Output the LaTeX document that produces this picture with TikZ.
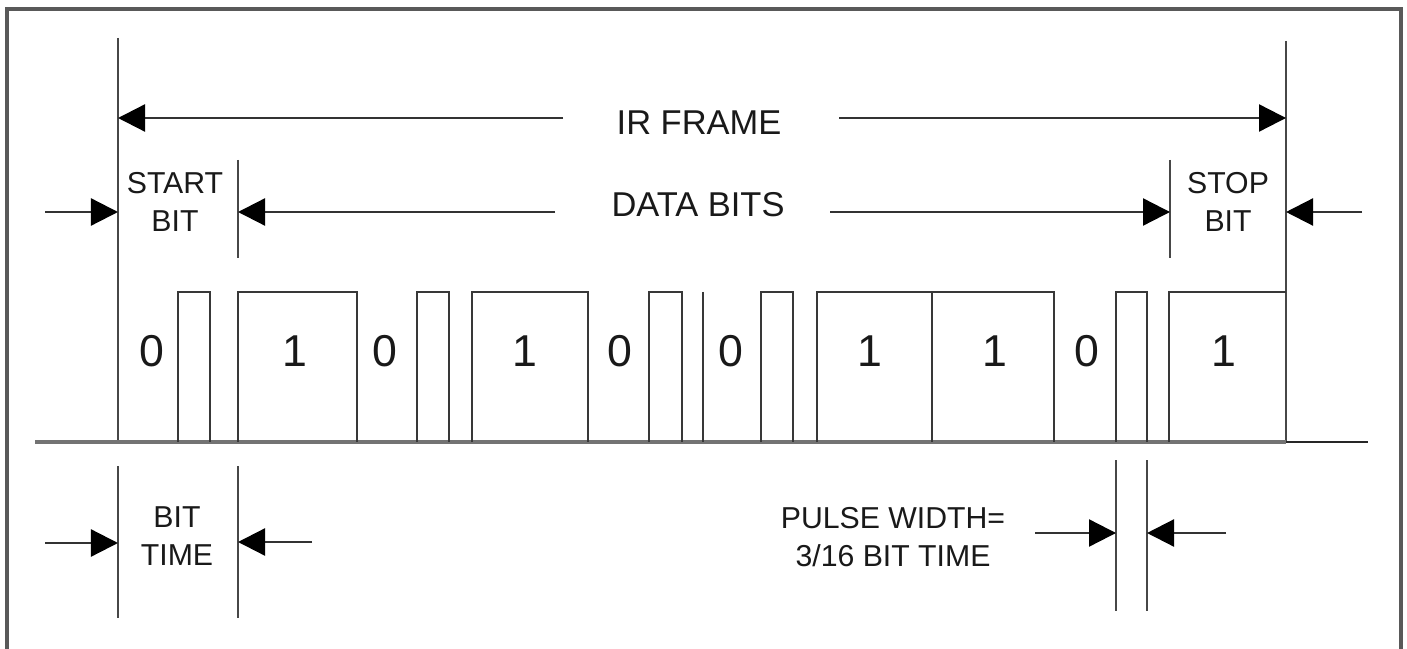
\documentclass[tikz,border=0pt]{standalone}
\usepackage{fontspec}
\setmainfont{Liberation Sans}
\usetikzlibrary{arrows.meta}

\begin{document}
\begin{tikzpicture}[x=0.01cm,y=-0.01cm,
  wave/.style={line width=0.65pt, draw=black!78, line join=miter},
  baseline/.style={line width=1.0pt, draw=black!55},
  marker/.style={line width=0.65pt, draw=black!72},
  dimarrow/.style={line width=0.65pt, draw=black!80,
    -{Triangle[length=2.7mm,width=2.7mm,color=black,fill=black]}},
  bitval/.style={font=\fontsize{12.7}{14}\selectfont, inner sep=0pt, text=black!90},
  heading/.style={font=\fontsize{9.8}{12}\selectfont, inner sep=0pt, text=black!90},
  note/.style={font=\fontsize{8.6}{11}\selectfont, align=center, inner sep=0pt, text=black!90},
]
\useasboundingbox (0,0) rectangle (1407,649);
\fill[white] (0,0) rectangle (1407,649);
% outer frame
\draw[line width=0.9pt, draw=black!65] (7,649) -- (7,9) -- (1401,9) -- (1401,649);

% boundary markers
\coordinate (frameT) at (118,38);   \coordinate (frameB) at (118,442);
\coordinate (endT)   at (1286,41);  \coordinate (endB)   at (1286,442);
\coordinate (startT) at (238,160);  \coordinate (startB) at (238,258);
\coordinate (stopT)  at (1170,160); \coordinate (stopB)  at (1170,258);
\draw[marker] (frameT) -- (frameB);
\draw[marker] (endT) -- (endB);
\draw[marker] (startT) -- (startB);
\draw[marker] (stopT) -- (stopB);

% IR frame span
\node[heading] (irframe) at (699,123) {IR FRAME};
\coordinate (irL) at (563,118);
\coordinate (irR) at (839,118);
\draw[dimarrow] (irL) -- (frameT |- irL);
\draw[dimarrow] (irR) -- (endT |- irR);

% data bits span
\node[heading] (databits) at (698,205) {DATA BITS};
\coordinate (dbL) at (555,212);
\coordinate (dbR) at (830,212);
\draw[dimarrow] (dbL) -- (startT |- dbL);
\draw[dimarrow] (dbR) -- (stopT |- dbR);

% start / stop bit
\node[note] (startbit) at (175,202) {START\\BIT};
\node[note] (stopbit) at (1228,202) {STOP\\BIT};
\coordinate (startIn) at (45,212);
\coordinate (stopIn) at (1362,212);
\draw[dimarrow] (startIn) -- (frameT |- startIn);
\draw[dimarrow] (stopIn) -- (endT |- stopIn);

% waveform
\draw[baseline] (35,442) -- (1286,442);
\draw[line width=0.65pt, draw=black!85] (1286,442) -- (1368,442);
\draw[wave] (178,442) -- (178,292) -- (210,292) -- (210,442);
\draw[wave] (238,442) -- (238,292) -- (357,292) -- (357,442);
\draw[wave] (417,442) -- (417,292) -- (449,292) -- (449,442);
\draw[wave] (472,442) -- (472,292) -- (588,292) -- (588,442);
\draw[wave] (649,442) -- (649,292) -- (682,292) -- (682,442);
\draw[wave] (703,292) -- (703,442);
\draw[wave] (761,442) -- (761,292) -- (793,292) -- (793,442);
\draw[wave] (817,442) -- (817,292) -- (1054,292) -- (1054,442);
\draw[wave] (932,292) -- (932,442);
\draw[wave] (1116,442) -- (1116,292) -- (1147,292) -- (1147,442);
\draw[wave] (1169,442) -- (1169,292) -- (1286,292);

% bit values
\node[bitval] (b0)  at (152,351) {0};
\node[bitval] (b1)  at (295,351) {1};
\node[bitval] (b2)  at (385,351) {0};
\node[bitval] (b3)  at (525,351) {1};
\node[bitval] (b4)  at (620,351) {0};
\node[bitval] (b5)  at (731,351) {0};
\node[bitval] (b6)  at (870,351) {1};
\node[bitval] (b7)  at (995,351) {1};
\node[bitval] (b8)  at (1087,351) {0};
\node[bitval] (b9)  at (1224,351) {1};

% bit time
\coordinate (btL) at (118,466); \coordinate (btLb) at (118,618);
\coordinate (btR) at (238,466); \coordinate (btRb) at (238,618);
\draw[marker] (btL) -- (btLb);
\draw[marker] (btR) -- (btRb);
\node[note] (bittime) at (177,536) {BIT\\TIME};
\coordinate (btInL) at (45,543);
\coordinate (btInR) at (312,542);
\draw[dimarrow] (btInL) -- (btL |- btInL);
\draw[dimarrow] (btInR) -- (btR |- btInR);

% pulse width
\coordinate (pwL) at (1116,460); \coordinate (pwLb) at (1116,611);
\coordinate (pwR) at (1147,460); \coordinate (pwRb) at (1147,611);
\draw[marker] (pwL) -- (pwLb);
\draw[marker] (pwR) -- (pwRb);
\node[note] (pulsewidth) at (893,537) {PULSE WIDTH=\\3/16 BIT TIME};
\coordinate (pwInL) at (1035,533);
\coordinate (pwInR) at (1226,533);
\draw[dimarrow] (pwInL) -- (pwL |- pwInL);
\draw[dimarrow] (pwInR) -- (pwR |- pwInR);
\end{tikzpicture}
\end{document}
